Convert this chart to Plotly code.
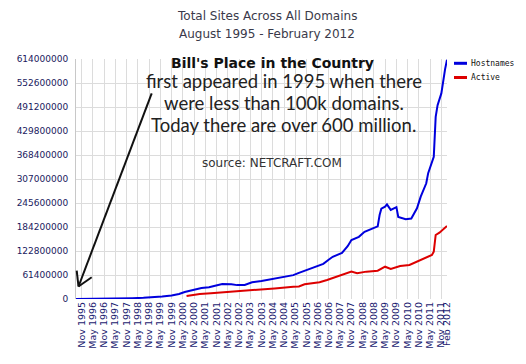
import plotly.graph_objects as go
import pandas as pd

# ---- data (values in millions) ----
host_dates = ["1995-08", "1996-02", "1996-08", "1997-02", "1997-08", "1998-02", "1998-08",
              "1999-01", "1999-06", "1999-11", "2000-03", "2000-06", "2000-09", "2000-12",
              "2001-03", "2001-07", "2001-10", "2002-02", "2002-07", "2002-10", "2003-02",
              "2003-06", "2003-11", "2004-05", "2004-11", "2005-04", "2005-07", "2005-11",
              "2006-03", "2006-06", "2006-08", "2006-11", "2007-01", "2007-06", "2007-09",
              "2007-11", "2008-03", "2008-06", "2008-10", "2009-01", "2009-02", "2009-03",
              "2009-05", "2009-06", "2009-08", "2009-10", "2009-11", "2009-12", "2010-02",
              "2010-04", "2010-07", "2010-10", "2010-12", "2011-03", "2011-04", "2011-06",
              "2011-07", "2011-08", "2011-09", "2011-11", "2011-12", "2012-01", "2012-02"]
hostnames_m = [0.02, 0.1, 0.34, 0.74, 1.5, 2.1, 2.9,
               4.1, 6.2, 9.0, 13.0, 18.0, 21.2, 25.7,
               28.0, 30.0, 33.0, 38.5, 38.0, 35.5, 36.0,
               43.0, 46.0, 51.0, 57.0, 61.0, 67.0, 74.0,
               80.0, 85.0, 90.0, 101.0, 108.0, 118.0, 135.0,
               151.0, 159.0, 172.0, 181.0, 186.0, 215.0, 231.0,
               236.0, 242.0, 228.0, 232.0, 235.0, 210.0, 206.0,
               204.0, 206.0, 232.0, 262.0, 296.0, 322.0, 351.0,
               364.0, 466.0, 496.0, 526.0, 562.0, 588.0, 612.0]

active_dates = ["2000-07", "2000-10", "2001-02", "2001-08", "2002-02", "2002-08", "2003-02",
                "2003-10", "2004-06", "2005-04", "2005-07", "2005-10", "2006-02", "2006-06",
                "2006-10", "2007-03", "2007-07", "2007-11", "2008-02", "2008-07", "2009-01",
                "2009-05", "2009-08", "2009-10", "2010-01", "2010-06", "2010-10", "2011-02",
                "2011-06", "2011-07", "2011-08", "2011-10", "2011-12", "2012-02"]
active_m = [7.7, 10.0, 12.8, 15.0, 17.0, 18.7, 20.0,
            23.0, 27.0, 31.5, 32.0, 37.6, 40.0, 42.7,
            48.6, 57.0, 63.0, 70.0, 65.7, 70.0, 72.4,
            82.6, 76.7, 80.0, 84.4, 87.0, 95.4, 104.0,
            112.5, 121.0, 163.7, 169.6, 177.0, 186.7]

x_tick_labels = ["Nov 1995", "May 1996", "Nov 1996", "May 1997", "Nov 1997", "May 1998",
                 "Nov 1998", "May 1999", "Nov 1999", "May 2000", "Nov 2000", "May 2001",
                 "Nov 2001", "May 2002", "Nov 2002", "May 2003", "Nov 2003", "May 2004",
                 "Nov 2004", "May 2005", "Nov 2005", "May 2006", "Nov 2006", "May 2007",
                 "Nov 2007", "May 2008", "Nov 2008", "May 2009", "Nov 2009", "May 2010",
                 "Nov 2010", "May 2011", "Nov 2011", "Feb 2012"]
y_tick_values = [0, 61400000, 122800000, 184200000, 245600000, 307000000,
                 368400000, 429800000, 491200000, 552600000, 614000000]

# ---- build ----
hx = pd.to_datetime(host_dates)
ax_ = pd.to_datetime(active_dates)
hy = [v * 1e6 for v in hostnames_m]
ay = [v * 1e6 for v in active_m]
tickvals = pd.to_datetime(x_tick_labels, format="%b %Y")

W, H = 526, 364
L, R, T, B = 76, 447, 59, 299


def px(x):
    return (x - L) / (R - L)


def py(y):
    return (B - y) / (B - T)


fig = go.Figure()
fig.add_trace(go.Scatter(x=hx, y=hy, mode="lines", name="Hostnames",
                         line=dict(color="#0000dd", width=2), showlegend=False))
fig.add_trace(go.Scatter(x=ax_, y=ay, mode="lines", name="Active",
                         line=dict(color="#dd0000", width=2), showlegend=False))

annos = []
for txt, cy in [("Total Sites Across All Domains", 16), ("August 1995 - February 2012", 34)]:
    annos.append(dict(text=txt, x=px(266.7), y=py(cy), xref="paper", yref="paper",
                      xanchor="center", yanchor="middle", showarrow=False,
                      font=dict(family="DejaVu Sans", size=12, color="#3a3a4a")))
annos.append(dict(text="<b>Bill's Place in the Country</b>", x=px(272.5), y=py(63),
                  xref="paper", yref="paper", xanchor="center", yanchor="middle",
                  showarrow=False, font=dict(family="DejaVu Sans", size=14, color="#111111")))
for txt, cy in [("first appeared in 1995 when there", 80.5),
                ("were less than 100k domains.", 103),
                ("Today there are over 600 million.", 125)]:
    annos.append(dict(text=txt, x=px(283.5), y=py(cy), xref="paper", yref="paper",
                      xanchor="center", yanchor="middle", showarrow=False,
                      font=dict(family="Lato", size=18.5, color="#222222")))
annos.append(dict(text="source: NETCRAFT.COM", x=px(271.7), y=py(163.3), xref="paper",
                  yref="paper", xanchor="center", yanchor="middle", showarrow=False,
                  font=dict(family="DejaVu Sans", size=12, color="#333333")))
# legend labels
annos.append(dict(text="Hostnames", x=px(469), y=py(63.3), xref="paper", yref="paper",
                  xanchor="left", yanchor="middle", showarrow=False,
                  font=dict(family="DejaVu Sans Mono", size=8, color="#111111")))
annos.append(dict(text="Active", x=px(469), y=py(77.5), xref="paper", yref="paper",
                  xanchor="left", yanchor="middle", showarrow=False,
                  font=dict(family="DejaVu Sans Mono", size=8, color="#111111")))

shapes = [
    dict(type="line", xref="paper", yref="paper", x0=px(454), x1=px(467), y0=py(63.3), y1=py(63.3),
         line=dict(color="#0000dd", width=3)),
    dict(type="line", xref="paper", yref="paper", x0=px(454), x1=px(467), y0=py(77.5), y1=py(77.5),
         line=dict(color="#dd0000", width=3)),
    # arrow
    dict(type="line", xref="paper", yref="paper", x0=px(151.7), y0=py(93.3), x1=px(78.5), y1=py(286.5),
         line=dict(color="#111111", width=2)),
    dict(type="line", xref="paper", yref="paper", x0=px(78.5), y0=py(286.5), x1=px(76.7), y1=py(270.7),
         line=dict(color="#111111", width=2)),
    dict(type="line", xref="paper", yref="paper", x0=px(78.5), y0=py(286.5), x1=px(91.7), y1=py(277.3),
         line=dict(color="#111111", width=2)),
]

fig.update_layout(
    width=W, height=H,
    margin=dict(l=L, r=W - R, t=T, b=H - B, pad=0),
    paper_bgcolor="white", plot_bgcolor="white",
    annotations=annos, shapes=shapes,
    xaxis=dict(type="date", range=[pd.Timestamp("1995-08-01"), pd.Timestamp("2012-02-01")],
               tickvals=tickvals, ticktext=x_tick_labels, tickangle=-90,
               tickfont=dict(family="DejaVu Sans", size=9.5, color="#1a1a70"),
               showgrid=True, gridcolor="#dcdcdc", gridwidth=1, zeroline=False,
               showline=False, ticks="", ticklen=0),
    yaxis=dict(range=[0, 614000000], tickvals=y_tick_values, tickformat="d",
               tickfont=dict(family="DejaVu Sans", size=9, color="#1a1a60"),
               showgrid=True, gridcolor="#dcdcdc", gridwidth=1, zeroline=False,
               showline=True, linecolor="#c8c8c8", linewidth=1, ticks="", ticklabelstandoff=5),
)

fig.write_html("out.html", config={"displayModeBar": False},
               post_script="document.body.style.margin='0';document.body.style.overflow='hidden';")
